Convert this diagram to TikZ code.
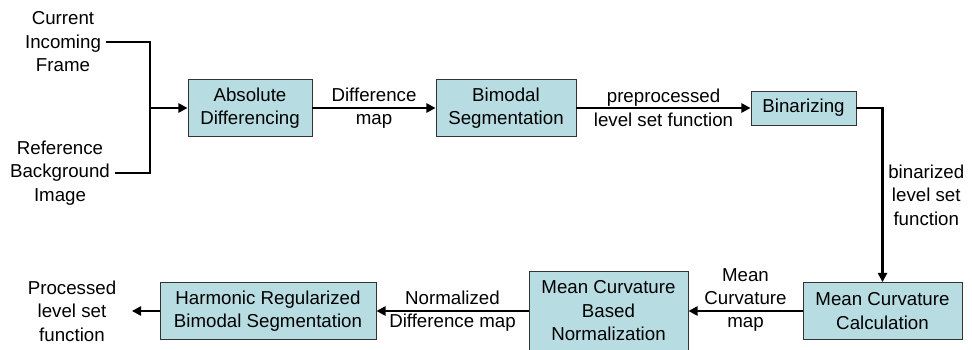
\documentclass[tikz,border=0pt]{standalone}
\usepackage{fontspec}
\setmainfont{Liberation Sans}
\usetikzlibrary{arrows.meta}

\definecolor{boxcol}{RGB}{183,221,226}
\tikzset{
  box/.style={draw=black!80, line width=0.6pt, fill=boxcol, align=center, minimum height=1.425cm},
  txt/.style={align=center},
  wire/.style={line width=1.6pt},
  flow/.style={line width=1.6pt, -{Triangle[length=2.3mm,width=2.3mm]}}
}

\begin{document}
\begin{tikzpicture}[x=0.025cm, y=-0.025cm, font=\fontsize{13.3pt}{16.7pt}\selectfont]
\clip (0,0) rectangle (972,349);

\node[txt] (cur) at (63,42) {Current\\Incoming\\Frame};
\node[txt] (ref) at (60,173) {Reference\\Background\\Image};
\coordinate (join) at (150,108);

\node[box, minimum width=3.1cm] (absdiff) at (250,108) {Absolute\\Differencing};
\node[box, minimum width=3.5cm] (bimodal) at (506,108) {Bimodal\\Segmentation};
\node[box, minimum width=2.625cm, minimum height=0.85cm] (binar) at (803.5,108) {Binarizing};
\node[box, minimum width=3.975cm] (mccalc) at (882.5,311) {Mean Curvature\\Calculation};
\node[box, minimum width=3.975cm, minimum height=2cm] (mcnorm) at (608.5,311) {Mean Curvature\\Based\\Normalization};
\node[box, minimum width=5.4cm] (harm) at (268,311) {Harmonic Regularized\\Bimodal Segmentation};
\node[txt, inner xsep=11pt] (out) at (72,311) {Processed\\level set\\function};

\draw[wire] (cur.east) -| (join);
\draw[wire] (ref.east) -| (join);
\draw[flow] (join) -- (absdiff);
\draw[flow] (absdiff) -- node[txt] {Difference\\map} (bimodal);
\draw[flow] (bimodal) -- node[txt] {preprocessed\\level set function} (binar);
\draw[flow] (binar) -| node[txt, pos=0.75, right] {binarized\\level set\\function} (mccalc);
\draw[flow] (mccalc) -- node[txt, yshift=0.275cm] {Mean\\Curvature\\map} (mcnorm);
\draw[flow] (mcnorm) -- node[txt] {Normalized\\Difference map} (harm);
\draw[flow] (harm) -- (out);
\end{tikzpicture}
\end{document}
